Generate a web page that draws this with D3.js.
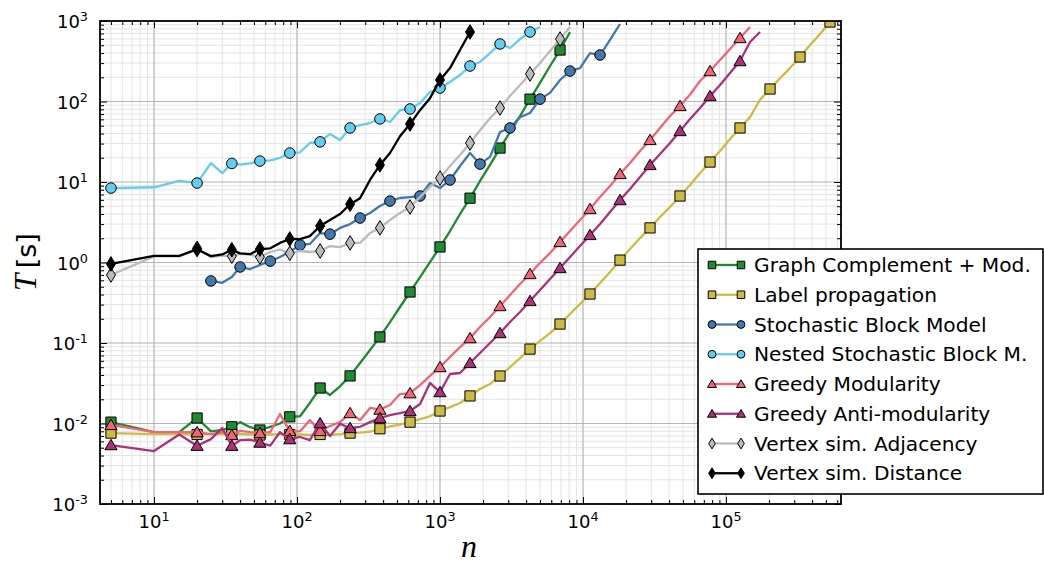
<!DOCTYPE html>
<html>
<head>
<meta charset="utf-8">
<script src="https://cdn.jsdelivr.net/npm/d3@7"></script>
<style>
  body { margin: 0; background: #fff; }
  svg { display: block; }
</style>
</head>
<body>
<script>
// network sizes n (shared sampling of all runs)
const nValues = [5, 10, 15, 20, 25, 30, 35, 40, 47, 55,
    65, 76, 89, 105, 123, 145, 170, 200, 235, 276,
    324, 380, 447, 525, 617, 725, 851, 1000, 1175, 1380,
    1621, 1904, 2237, 2628, 3087, 3627, 4260, 5005, 5879, 6907,
    8114, 9528, 11194, 13150, 15446, 18146, 21318, 25043, 29418, 34559,
    40599, 47693, 56028, 65817, 77317, 90825, 106660, 125300, 147200, 172900,
    203200, 238600, 280300, 329300, 386800, 454400, 533800];

// running times T [s]
const tGraphComplement = [0.0104, 0.0078, 0.0078, 0.0117, 0.0080, 0.0083, 0.0091, 0.0104, 0.0090, 0.0083,
    0.0091, 0.0100, 0.0121, 0.0123, 0.018, 0.0276, 0.0226, 0.029, 0.039, 0.0565,
    0.082, 0.119, 0.182, 0.28, 0.43, 0.66, 1.01, 1.56, 2.46, 4.0,
    6.3, 10.3, 16.3, 26.4, 41.8, 66, 107, 170, 276, 436, 730];
const tLabelProp = [0.0076, 0.0074, 0.0074, 0.0073, 0.0074, 0.0074, 0.0073, 0.0074, 0.0073, 0.0072,
    0.0073, 0.0074, 0.0073, 0.0073, 0.0072, 0.0073, 0.0072, 0.0074, 0.0076, 0.0077,
    0.0079, 0.0086, 0.0092, 0.0097, 0.0104, 0.0113, 0.0123, 0.0143, 0.016, 0.018,
    0.022, 0.0268, 0.031, 0.0389, 0.0503, 0.065, 0.084, 0.106, 0.133, 0.172,
    0.229, 0.305, 0.406, 0.556, 0.762, 1.07, 1.47, 2.01, 2.69, 3.67,
    4.89, 6.7, 9.2, 12.9, 17.7, 24.3, 34.2, 46.9, 64, 105,
    143, 194, 260, 357, 504, 690, 972];
const tSBM = [null, null, null, null, 0.59, 0.56, 0.66, 0.88, 0.83, 0.93,
    1.04, 1.17, 1.36, 1.65, 1.7, 2.32, 2.25, 2.69, 3.0, 3.57,
    4.12, 5.04, 5.8, 6.33, 6.5, 6.7, 9.7, 8.4, 10.6, 15.8,
    22.9, 16.7, 20.5, 41.8, 46.9, 64, 72, 107, 128, 185,
    239, 260, 400, 378, 581, 918];
const tNestedSBM = [8.4, 8.6, 10.3, 9.7, 17.2, 12.9, 17, 16.4, 17, 18.2,
    18.6, 20, 22.9, 23.4, 30.5, 31.5, 39.5, 33.3, 46.9, 51,
    54, 60.7, 55.6, 78, 80.7, 95.7, 131, 147, 175, 213,
    276, 310, 400, 518, 462, 597, 730, 841];
const tGreedyMod = [0.0096, 0.0078, 0.0078, 0.0078, 0.0074, 0.0078, 0.0072, 0.0081, 0.0078, 0.0076,
    0.0078, 0.0131, 0.0081, 0.0080, 0.011, 0.0081, 0.0093, 0.0104, 0.0135, 0.011,
    0.0156, 0.0149, 0.017, 0.0232, 0.0238, 0.030, 0.039, 0.0503, 0.067, 0.089,
    0.115, 0.158, 0.21, 0.288, 0.394, 0.54, 0.72, 0.99, 1.31, 1.8,
    2.46, 3.37, 4.62, 6.5, 8.9, 12.6, 17.2, 24.3, 33.3, 46.9,
    66, 88, 122, 180, 239, 328, 449, 615, 841];
const tGreedyAnti = [0.0054, 0.00455, 0.0073, 0.0053, 0.0064, 0.0088, 0.0053, 0.0062, 0.0063, 0.0058,
    0.0053, 0.0078, 0.0064, 0.0068, 0.0062, 0.0101, 0.007, 0.0099, 0.0088, 0.0091,
    0.0104, 0.0117, 0.0127, 0.0135, 0.0143, 0.0175, 0.0319, 0.0246, 0.0412, 0.0424,
    0.0565, 0.0751, 0.1, 0.133, 0.182, 0.243, 0.333, 0.455, 0.624, 0.855,
    1.17, 1.6, 2.2, 3.0, 4.24, 5.97, 8.2, 11.5, 16.3, 22.3,
    30.5, 43, 60.7, 83, 117, 160, 226, 318, 548, 730];
const tVertexAdj = [0.70, 1.19, 1.19, 1.5, 1.17, 1.22, 1.2, 1.28, 1.25, 1.17,
    1.35, 1.45, 1.3, 1.39, 1.35, 1.39, 1.6, 1.55, 1.75, 1.75,
    2.32, 2.69, 3.37, 4.12, 4.89, 6.5, 8.7, 11.2, 15.8, 21.6,
    30.5, 44, 62, 83, 117, 160, 220, 300, 424, 597, 841];
const tVertexDist = [0.96, 1.21, 1.21, 1.45, 1.2, 1.26, 1.44, 1.3, 1.27, 1.47,
    1.5, 1.75, 1.96, 1.95, 2.13, 2.84, 3.37, 4.0, 5.3, 6.3,
    10.6, 16.3, 22.9, 37, 52.5, 78, 110, 185, 260, 436, 730];

const xMajor = [10, 100, 1000, 10000, 100000];
const yMajor = [1e-3, 1e-2, 1e-1, 1, 10, 100, 1000];
const xTickLabels = ['1', '2', '3', '4', '5'];
const yTickLabels = ['-3', '-2', '-1', '0', '1', '2', '3'];

const series = [
    {name: 'Graph Complement + Mod.', values: tGraphComplement, color: '#228833', marker: 'square'},
    {name: 'Label propagation', values: tLabelProp, color: '#CCBB44', marker: 'square'},
    {name: 'Stochastic Block Model', values: tSBM, color: '#4477AA', marker: 'circle'},
    {name: 'Nested Stochastic Block M.', values: tNestedSBM, color: '#66CCEE', marker: 'circle'},
    {name: 'Greedy Modularity', values: tGreedyMod, color: '#EE6677', marker: 'triangle'},
    {name: 'Greedy Anti-modularity', values: tGreedyAnti, color: '#AA3377', marker: 'triangle'},
    {name: 'Vertex sim. Adjacency', values: tVertexAdj, color: '#BBBBBB', marker: 'diamond'},
    {name: 'Vertex sim. Distance', values: tVertexDist, color: '#000000', marker: 'diamond'}
];

const width = 1044;
const height = 566;
const plot = {left: 100, right: 841, top: 21, bottom: 504};

const svg = d3.select('body')
    .append('svg')
    .attr('width', width)
    .attr('height', height)
    .style('font-family', '"DejaVu Sans", sans-serif');

const x = d3.scaleLog()
    .domain([4.19, 6.37e5])
    .range([plot.left, plot.right]);
const y = d3.scaleLog()
    .domain([1e-3, 1e3])
    .range([plot.bottom, plot.top]);

function minorTicks(scale) {
    const [a, b] = scale.domain();
    const out = [];
    for (let e = Math.floor(Math.log10(a)); e <= Math.ceil(Math.log10(b)); e++) {
        for (let k = 2; k <= 9; k++) {
            const v = k * Math.pow(10, e);
            if (v >= a && v <= b) out.push(v);
        }
    }
    return out;
}
const xMinor = minorTicks(x);
const yMinor = minorTicks(y);

// grid
const grid = svg.append('g');
grid.selectAll('.xminor').data(xMinor).enter().append('line')
    .attr('x1', d => x(d)).attr('x2', d => x(d))
    .attr('y1', plot.top).attr('y2', plot.bottom)
    .style('stroke', '#e4e4e4').style('stroke-width', 1);
grid.selectAll('.yminor').data(yMinor).enter().append('line')
    .attr('x1', plot.left).attr('x2', plot.right)
    .attr('y1', d => y(d)).attr('y2', d => y(d))
    .style('stroke', '#e4e4e4').style('stroke-width', 1);
grid.selectAll('.xmajor').data(xMajor).enter().append('line')
    .attr('x1', d => x(d)).attr('x2', d => x(d))
    .attr('y1', plot.top).attr('y2', plot.bottom)
    .style('stroke', '#b4b4b4').style('stroke-width', 1.2);
grid.selectAll('.ymajor').data(yMajor.slice(1, -1)).enter().append('line')
    .attr('x1', plot.left).attr('x2', plot.right)
    .attr('y1', d => y(d)).attr('y2', d => y(d))
    .style('stroke', '#b4b4b4').style('stroke-width', 1.2);

// inward ticks on all four sides
function addAxis(axisFn, scale, values, size, transform) {
    svg.append('g')
        .attr('transform', transform)
        .call(axisFn(scale).tickValues(values).tickSizeInner(-size).tickSizeOuter(0).tickFormat(''))
        .call(g => g.select('.domain').remove())
        .call(g => g.selectAll('line').style('stroke', '#000').style('stroke-width', 1));
}
addAxis(d3.axisBottom, x, xMajor, 7, `translate(0,${plot.bottom})`);
addAxis(d3.axisBottom, x, xMinor, 4, `translate(0,${plot.bottom})`);
addAxis(d3.axisTop, x, xMajor, 7, `translate(0,${plot.top})`);
addAxis(d3.axisTop, x, xMinor, 4, `translate(0,${plot.top})`);
addAxis(d3.axisLeft, y, yMajor, 7, `translate(${plot.left},0)`);
addAxis(d3.axisLeft, y, yMinor, 4, `translate(${plot.left},0)`);
addAxis(d3.axisRight, y, yMajor, 7, `translate(${plot.right},0)`);
addAxis(d3.axisRight, y, yMinor, 4, `translate(${plot.right},0)`);

// tick labels 10^k
const xl = svg.append('g').selectAll('text').data(xMajor).enter().append('text')
    .attr('x', d => x(d))
    .attr('y', 528)
    .attr('text-anchor', 'middle')
    .style('font-size', '18px');
xl.append('tspan').text('10');
xl.append('tspan').attr('dy', -7).style('font-size', '12.8px').text((d, i) => xTickLabels[i]);

const yl = svg.append('g').selectAll('text').data(yMajor).enter().append('text')
    .attr('x', 88)
    .attr('y', d => y(d) + 7)
    .attr('text-anchor', 'end')
    .style('font-size', '18px');
yl.append('tspan').text('10');
yl.append('tspan').attr('dy', -7).style('font-size', '12.8px').text((d, i) => yTickLabels[i]);

// axis labels
svg.append('text')
    .attr('x', 469).attr('y', 557)
    .attr('text-anchor', 'middle')
    .style('font-family', '"Liberation Serif", serif')
    .style('font-style', 'italic')
    .style('font-size', '32px')
    .text('n');

const yLab = svg.append('text')
    .attr('transform', 'translate(36,262) rotate(-90)')
    .attr('text-anchor', 'middle')
    .style('font-size', '27px');
yLab.append('tspan')
    .style('font-family', '"Liberation Serif", serif')
    .style('font-style', 'italic')
    .style('font-size', '31px')
    .text('T');
yLab.append('tspan').text('\u2009[s]');

// markers
function markerPath(type, s) {
    if (type === 'square') return d3.symbol().type(d3.symbolSquare).size(104 * s * s)();
    if (type === 'circle') return d3.symbol().type(d3.symbolCircle).size(88 * s * s)();
    if (type === 'triangle') {
        const w = 6.1 * s, h = 10.4 * s;
        return `M0,${-h * 0.55}L${w},${h * 0.45}L${-w},${h * 0.45}Z`;
    }
    const w = 4.5 * s, h = 7.3 * s;
    return `M0,${-h}L${w},0L0,${h}L${-w},0Z`;
}

svg.append('clipPath').attr('id', 'clip')
    .append('rect')
    .attr('x', plot.left).attr('y', plot.top)
    .attr('width', plot.right - plot.left).attr('height', plot.bottom - plot.top);

const line = d3.line()
    .defined(d => d.t != null)
    .x(d => x(d.n))
    .y(d => y(d.t));

const plotArea = svg.append('g').attr('clip-path', 'url(#clip)');
series.forEach(s => {
    const pts = nValues.map((n, i) => ({n: n, t: s.values[i]})).filter((d, i) => i < s.values.length);
    const first = pts.findIndex(d => d.t != null);
    plotArea.append('path')
        .attr('d', line(pts))
        .style('fill', 'none')
        .style('stroke', s.color)
        .style('stroke-width', 2.3)
        .style('stroke-linejoin', 'round');
    const marks = pts.filter((d, i) => d.t != null && (i - first) % 3 === 0);
    plotArea.selectAll(null).data(marks).enter().append('path')
        .attr('transform', d => `translate(${x(d.n)},${y(d.t)})`)
        .attr('d', markerPath(s.marker, 1))
        .style('fill', s.color)
        .style('stroke', '#000')
        .style('stroke-width', 1);
});

// frame
svg.append('rect')
    .attr('x', plot.left).attr('y', plot.top)
    .attr('width', plot.right - plot.left).attr('height', plot.bottom - plot.top)
    .style('fill', 'none')
    .style('stroke', '#000')
    .style('stroke-width', 1.8);

// legend
const legend = svg.append('g');
legend.append('rect')
    .attr('x', 698).attr('y', 249)
    .attr('width', 345).attr('height', 245)
    .style('fill', '#fff')
    .style('stroke', '#000')
    .style('stroke-width', 1.6);
series.forEach((s, i) => {
    const ly = 265 + i * 29.75;
    const row = legend.append('g');
    row.append('line')
        .attr('x1', 712).attr('x2', 741)
        .attr('y1', ly).attr('y2', ly)
        .style('stroke', s.color)
        .style('stroke-width', 2.3);
    [712, 741].forEach(mx => {
        row.append('path')
            .attr('transform', `translate(${mx},${ly})`)
            .attr('d', markerPath(s.marker, 0.74))
            .style('fill', s.color)
            .style('stroke', '#000')
            .style('stroke-width', 1);
    });
    row.append('text')
        .attr('x', 754).attr('y', ly + 7)
        .style('font-size', '20.2px')
        .style('fill', '#000')
        .text(s.name);
});
</script>
</body>
</html>
